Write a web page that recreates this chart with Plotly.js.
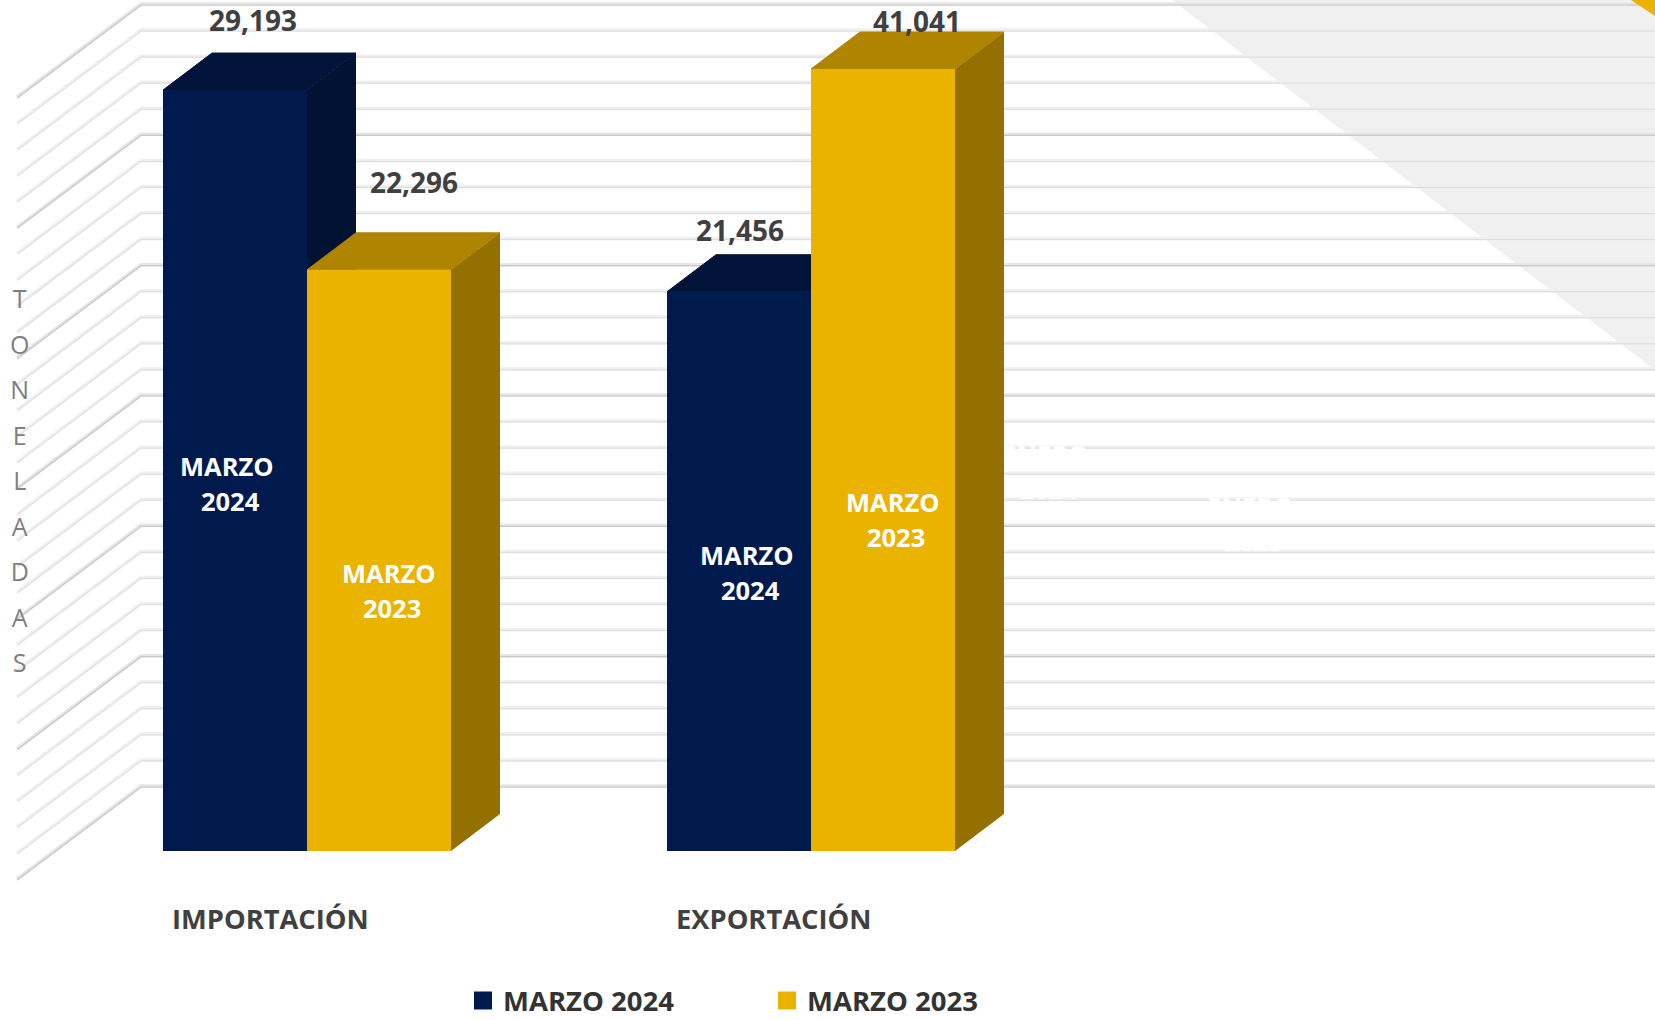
<!DOCTYPE html>
<html>
<head>
<meta charset="utf-8">
<script src="https://cdn.plot.ly/plotly-3.0.1.min.js"></script>
<style>html,body{margin:0;padding:0;background:#fff}#chart{width:1655px;height:1020px}</style>
</head>
<body>
<div id="chart"></div>
<script>
// ---- data ----
const categories = ["IMPORTACIÓN", "EXPORTACIÓN"];
const seriesNames = ["MARZO 2024", "MARZO 2023"];
const marzo2024 = [29193, 21456];
const marzo2023 = [22296, 41041];
const axisMax = 30000;
const minorStep = 1000;
const majorStep = 5000;

// ---- styling and page geometry ----
const W = 1655, H = 1020;
const navy = {front: "#001A4D", top: "#011338", side: "#021233"};
const gold = {front: "#EAB300", top: "#AF8400", side: "#947000"};
const baseY = 851, topY = 69;          // front plane: value 0 and axisMax
const midX = 307, catPx = 504;         // centre of the first group, group spacing
const barPx = 144;                     // width of one bar
const depth = {dx: 49, dy: 37};        // bar depth
const wall = {left: 141, tip: 17, rise: 65, drop: 93};
const tonPerPx = axisMax / (baseY - topY);

const ux = px => (px - midX) / catPx;
const tonAt = py => (baseY - py) * tonPerPx;
const barW = barPx / catPx, depX = depth.dx / catPx, depY = depth.dy * tonPerPx;
const paperX = px => px / W, paperY = py => 1 - py / H;
const catRange = [ux(0), ux(W)];

const traces = [];

// walls: one line per axis step on the back wall, and one on the side wall
function gridTrace(test, color, width, shiftPx) {
  const xs = [], ys = [];
  for (let v = 0; v <= axisMax; v += minorStep) {
    if (!test(v)) continue;
    const back = v + (wall.rise + shiftPx) * tonPerPx;
    xs.push(ux(wall.tip), ux(wall.left), ux(W), null);
    ys.push(back - wall.drop * tonPerPx, back, back, null);
  }
  return {type: "scatter", mode: "lines", x: xs, y: ys, xaxis: "x", yaxis: "y", showlegend: false,
          hoverinfo: "skip", line: {color: color, width: width}};
}
const isMajor = v => v % majorStep === 0;
const isMinor = v => !isMajor(v);
traces.push(gridTrace(isMinor, "#f0f0f0", 3.5, 0));
traces.push(gridTrace(isMinor, "#dcdcdc", 1, -1));
traces.push(gridTrace(isMajor, "#e6e6e6", 3.5, 0));
traces.push(gridTrace(isMajor, "#c8c8c8", 1.2, -1));

// depth faces of each bar (side, then top), computed from the values
function faces(values, offset, col) {
  values.forEach((raw, g) => {
    const v = Math.min(raw, axisMax);
    const l = g + offset, r = l + barW;
    traces.push({type: "scatter", mode: "lines", fill: "toself", fillcolor: col.side, line: {width: 0},
      x: [r, r + depX, r + depX, r, r], y: [0, depY, v + depY, v, 0],
      xaxis: "x", yaxis: "y", showlegend: false, hoverinfo: "skip"});
    traces.push({type: "scatter", mode: "lines", fill: "toself", fillcolor: col.top,
      line: {width: 1, color: col.top},
      x: [l, r, r + depX, l + depX, l], y: [v, v, v + depY, v + depY, v],
      xaxis: "x", yaxis: "y", showlegend: false, hoverinfo: "skip"});
  });
}
faces(marzo2024, -barW, navy);
faces(marzo2023, 0, gold);

// front faces: real bars, the plot area of x2/y2 ends at axisMax and clips them
traces.push({type: "bar", name: seriesNames[0], x: categories, y: marzo2024, xaxis: "x2", yaxis: "y2",
  marker: {color: navy.front}, showlegend: false});
traces.push({type: "bar", name: seriesNames[1], x: categories, y: marzo2023, xaxis: "x2", yaxis: "y2",
  marker: {color: gold.front}, showlegend: false});

// legend entries
[[seriesNames[0], navy.front], [seriesNames[1], gold.front]].forEach(([n, c]) => {
  traces.push({type: "scatter", mode: "markers", name: n, x: [null], y: [null], xaxis: "x", yaxis: "y",
    marker: {symbol: "square", size: 16, color: c, line: {color: c, width: 2}}});
});

const dataFont = {family: "Open Sans", size: 28, color: "#404040", weight: 700};
const catFont = {family: "Open Sans", size: 27.3, color: "#404040", weight: 700};
const inFont = {family: "Open Sans", size: 27, color: "#FFFFFF", weight: 700};
const fmt = n => n.toLocaleString("en-US");
const note = (text, px, py, font) => ({text, x: paperX(px), y: paperY(py), xref: "paper", yref: "paper",
  showarrow: false, xanchor: "center", yanchor: "middle", font});
// line spacing follows the outer font size, the glyphs follow the inner one
const small = (text, size) => '<span style="font-size:' + size + 'px">' + text + "</span>";
const inBar = (a, b) => small(a + "\u00a0", 25.5) + "<br>" + small(b, 25.5);

const annotations = [
  note(fmt(marzo2024[0]), 253, 20, dataFont),
  note(fmt(marzo2023[0]), 414, 182, dataFont),
  note(fmt(marzo2024[1]), 739.5, 230, dataFont),
  note(fmt(marzo2023[1]), 917, 21, dataFont),
  note(categories[0], 270, 918, catFont),
  note(categories[1], 773, 918, catFont),
  note(inBar("MARZO", "2024"), 230, 483, inFont),
  note(inBar("MARZO", "2023"), 392, 590, inFont),
  note(inBar("MARZO", "2024"), 750, 572, inFont),
  note(inBar("MARZO", "2023"), 896, 519, inFont),
  note(inBar("ENERO", "2024"), 1048, 471, inFont),
  note(inBar("ENERO", "2023"), 1253, 523, inFont),
  note("TONELADAS".split("").map(c => small(c, 25)).join("<br>"), 19, 480,
       {family: "Open Sans", size: 35, color: "#7F7F7F"})
];

const shapes = [
  {type: "path", xref: "paper", yref: "paper", layer: "below", line: {width: 0}, fillcolor: "#F0F0F0",
   path: `M${paperX(1172)},1 L1,1 L1,${paperY(370)} Z`},
  {type: "path", xref: "paper", yref: "paper", layer: "above", line: {width: 0}, fillcolor: gold.front,
   path: `M${paperX(1631)},1 L1,1 L1,${paperY(16)} Z`}
];

const layout = {
  width: W, height: H, autosize: false, margin: {l: 0, r: 0, t: 0, b: 0, autoexpand: false},
  paper_bgcolor: "#fff", plot_bgcolor: "rgba(0,0,0,0)", showlegend: true,
  barmode: "group", bargap: 1 - 2 * barW, bargroupgap: 0,
  xaxis: {domain: [0, 1], range: catRange, visible: false, fixedrange: true, anchor: "y"},
  yaxis: {domain: [0, 1], range: [tonAt(H), tonAt(0)], visible: false, fixedrange: true, anchor: "x"},
  xaxis2: {domain: [0, 1], type: "category", categoryarray: categories, range: catRange, visible: false,
           fixedrange: true, anchor: "y2"},
  yaxis2: {domain: [paperY(baseY), paperY(topY)], range: [0, axisMax], visible: false, fixedrange: true, anchor: "x2"},
  legend: {orientation: "h", x: paperX(463), xanchor: "left", y: paperY(1025), yanchor: "bottom",
           entrywidth: 259, entrywidthmode: "pixels", itemclick: false, itemdoubleclick: false,
           bgcolor: "rgba(0,0,0,0)", font: {family: "Open Sans", size: 27.5, color: "#333333", weight: 700}},
  annotations, shapes
};
Plotly.newPlot("chart", traces, layout, {displayModeBar: false, staticPlot: true});
</script>
</body>
</html>
